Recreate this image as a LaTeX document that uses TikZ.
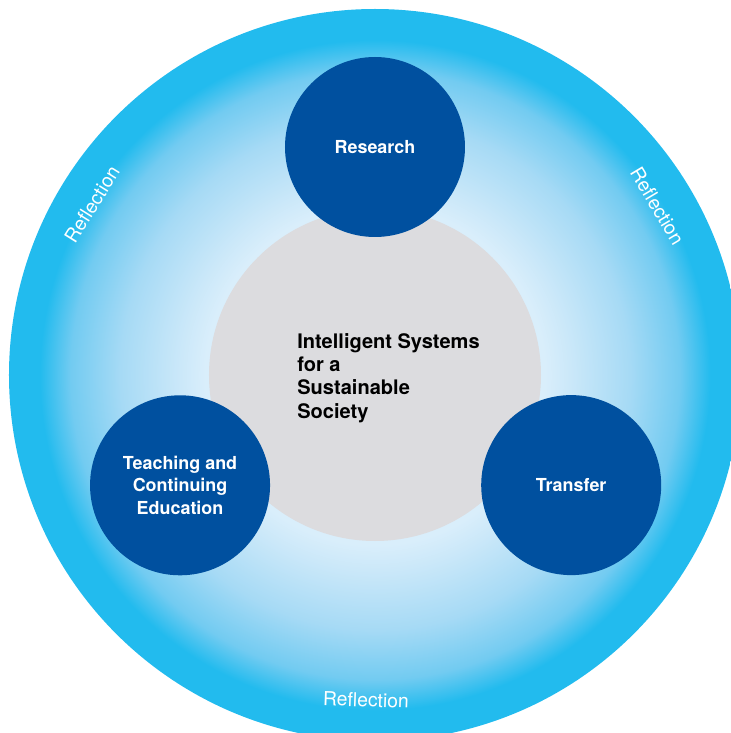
\documentclass[tikz,border=0pt]{standalone}
\usepackage{fontspec}
\setmainfont{TeX Gyre Heros}
\usepackage{tikz}
\usetikzlibrary{positioning}

\definecolor{pillarblue}{HTML}{00509F}
\definecolor{coregray}{HTML}{DCDCDF}
\definecolor{ringcyan}{HTML}{22BBEE}
\definecolor{glowA}{HTML}{EAF5FD}
\definecolor{glowB}{HTML}{D9EEFB}
\definecolor{glowC}{HTML}{CBE8F9}
\definecolor{glowD}{HTML}{A6DAF5}
\definecolor{glowE}{HTML}{72CBF1}

% light centre fading out to cyan at the rim
\pgfdeclareradialshading{reflectionglow}{\pgfpointorigin}{%
  color(0bp)=(glowA); color(11.6bp)=(glowB); color(13.3bp)=(glowC);
  color(17.4bp)=(glowD); color(20.8bp)=(glowE); color(22.9bp)=(ringcyan);
  color(25bp)=(ringcyan); color(50bp)=(ringcyan)}

\begin{document}
\begin{tikzpicture}[
    pillar/.style={circle, fill=pillarblue, minimum size=3.6cm, inner sep=0pt, text=white, align=center,
      font=\bfseries\fontsize{10.2}{12.8}\selectfont},
    refl/.style={text=white, inner sep=0pt, font=\fontsize{11}{13}\selectfont}]
    \useasboundingbox (-7.5,-7.16) rectangle (7.12,7.5);
    \clip (-7.5,-7.16) rectangle (7.12,7.5);

    % outer ring and core
    \node[circle, shade, shading=reflectionglow, minimum size=14.64cm, inner sep=0pt] (ring) at (0,0) {};
    \node[circle, fill=coregray, minimum size=6.64cm, inner sep=0pt] (core) at (0,0) {};
    \node[anchor=west, align=left, inner sep=0pt, font=\bfseries\fontsize{11.4}{13.2}\selectfont] (theme)
        at ([xshift=-1.56cm, yshift=-0.06cm]core.center) {Intelligent Systems\\for a\\Sustainable\\Society};

    % the three pillars
    \node[pillar] (research) at (90:4.56) {Research};
    \node[pillar] (teaching) at (209.5:4.48) {Teaching and\\Continuing\\Education};
    \node[pillar] (transfer) at (-29.3:4.5) {Transfer};

    % labels on the ring
    \node[refl, rotate=58] (reflleft) at (148.9:6.61) {Reflection};
    \node[refl, rotate=-59] (reflright) at (30.9:6.58) {Reflection};
    \node[refl, rotate=-2] (reflbottom) at (-91.6:6.5) {Reflection};
\end{tikzpicture}
\end{document}
